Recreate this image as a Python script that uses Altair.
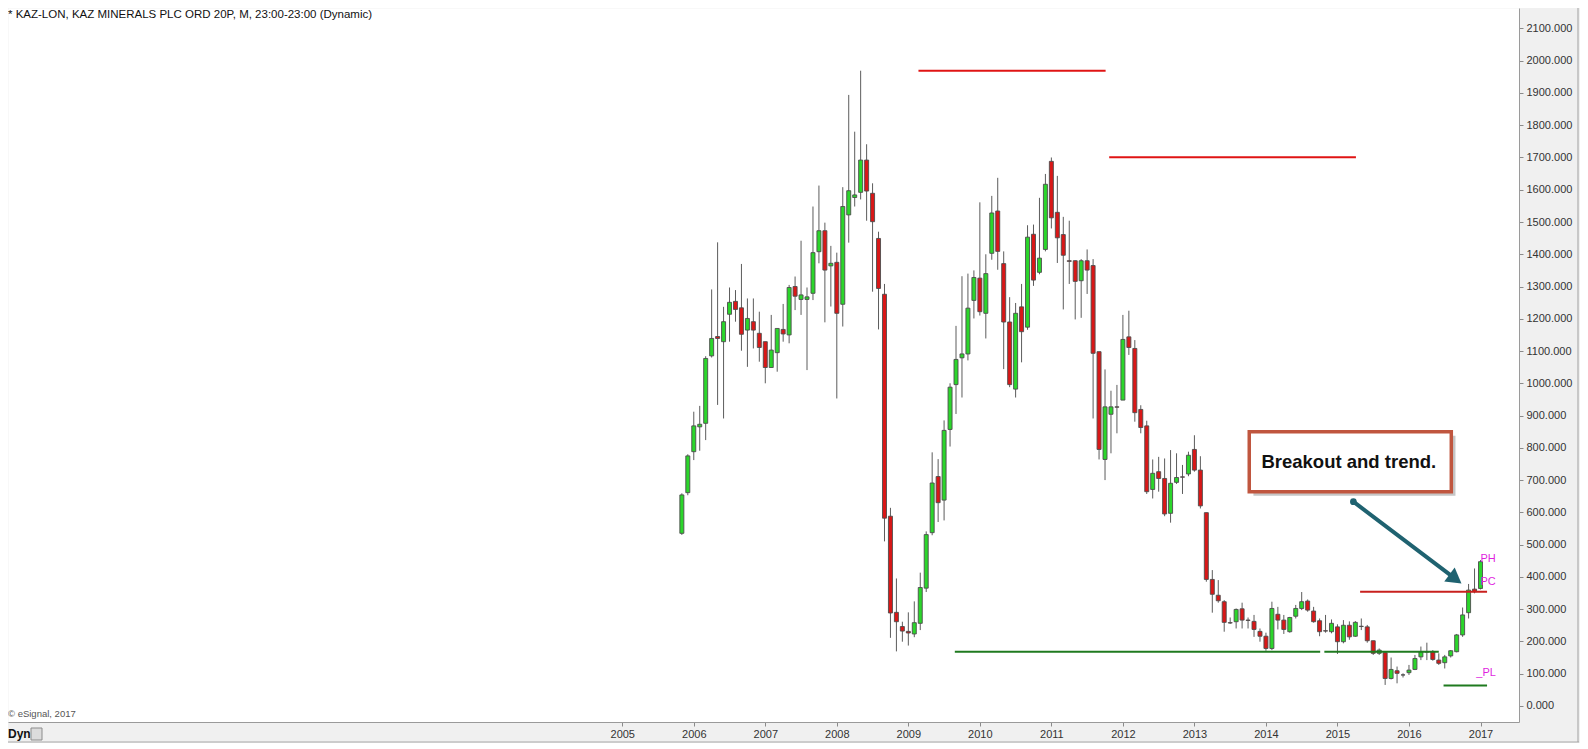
import altair as alt
import pandas as pd

# ---------------- data (monthly candles, Nov 2005 .. Jan 2017) ----------------
months = [p.strftime("%Y-%m") for p in pd.period_range("2005-11", "2017-01", freq="M")]

opens = [535, 661, 788, 865, 876, 1085, 1145, 1129, 1214, 1254,
         1234, 1165, 1191, 1155, 1129, 1049, 1095, 1167, 1150, 1300,
         1260, 1260, 1279, 1408, 1473, 1364, 1375, 1245, 1522, 1576,
         1592, 1692, 1589, 1449, 1276, 588, 290, 246, 231, 223,
         256, 365, 537, 711, 638, 857, 996, 1079, 1091, 1257,
         1326, 1217, 1403, 1534, 1371, 1190, 982, 1237, 1174, 1462,
         1344, 1415, 1688, 1530, 1461, 1380, 1380, 1318, 1380, 1365,
         1098, 764, 904, 927, 948, 1144, 1108, 919, 868, 671,
         726, 705, 597, 693, 710, 719, 795, 731, 599, 392,
         343, 323, 258, 261, 301, 266, 262, 231, 216, 178,
         284, 266, 230, 278, 302, 325, 294, 264, 233, 230,
         245, 199, 250, 216, 247, 245, 202, 163, 165, 85,
         109, 96, 103, 113, 152, 168, 168, 142, 134, 155,
         168, 220, 289, 362, 364]

highs = [659, 780, 912, 930, 1084, 1291, 1437, 1237, 1297, 1289,
         1370, 1263, 1263, 1222, 1129, 1212, 1170, 1246, 1305, 1331,
         1442, 1297, 1548, 1613, 1498, 1426, 1405, 1608, 1894, 1780,
         1969, 1741, 1620, 1470, 1308, 614, 395, 261, 290, 324,
         413, 541, 786, 765, 885, 1000, 1178, 1332, 1340, 1350,
         1561, 1400, 1581, 1637, 1409, 1267, 1249, 1308, 1490, 1492,
         1575, 1649, 1700, 1643, 1516, 1504, 1381, 1385, 1415, 1385,
         1098, 1043, 977, 995, 1212, 1225, 1134, 932, 884, 764,
         772, 767, 793, 783, 747, 788, 839, 774, 599, 421,
         390, 328, 274, 302, 320, 274, 282, 240, 227, 323,
         307, 282, 276, 313, 353, 330, 307, 271, 282, 268,
         253, 266, 262, 263, 271, 251, 202, 178, 168, 150,
         122, 101, 127, 158, 184, 196, 173, 163, 158, 173,
         223, 305, 378, 426, 452]

lows = [530, 653, 762, 791, 824, 1080, 933, 891, 1129, 1191,
        1101, 1051, 1108, 1067, 1000, 1049, 1036, 1129, 1124, 1227,
        1212, 1041, 1258, 1372, 1189, 1238, 953, 1176, 1436, 1548,
        1570, 1504, 1284, 1167, 510, 211, 169, 199, 187, 213,
        235, 353, 529, 570, 575, 804, 905, 956, 1071, 1201,
        1210, 1139, 1383, 1352, 1044, 988, 956, 1065, 1166, 1302,
        1338, 1409, 1480, 1373, 1229, 1308, 1198, 1203, 1277, 891,
        764, 700, 783, 845, 948, 1088, 881, 845, 657, 643,
        664, 588, 568, 688, 657, 712, 726, 612, 385, 289,
        320, 230, 254, 240, 240, 240, 214, 199, 171, 173,
        237, 223, 227, 271, 297, 292, 258, 216, 227, 225,
        161, 194, 205, 214, 235, 196, 158, 158, 65, 82,
        70, 88, 96, 111, 142, 142, 140, 127, 116, 150,
        166, 214, 271, 349, 361]

closes = [654, 775, 868, 873, 1077, 1139, 1139, 1191, 1251, 1229,
          1152, 1201, 1165, 1111, 1049, 1103, 1170, 1153, 1297, 1270,
          1274, 1268, 1405, 1473, 1351, 1372, 1217, 1548, 1597, 1584,
          1692, 1596, 1501, 1294, 582, 288, 261, 232, 226, 258,
          367, 531, 691, 630, 854, 988, 1074, 1091, 1233, 1328,
          1222, 1340, 1528, 1409, 1190, 996, 1217, 1160, 1453, 1320,
          1388, 1617, 1513, 1451, 1397, 1378, 1316, 1380, 1351, 1093,
          795, 927, 927, 926, 1136, 1111, 909, 863, 664, 721,
          705, 595, 690, 708, 709, 777, 731, 620, 392, 346,
          326, 259, 257, 299, 266, 265, 237, 216, 178, 302,
          266, 237, 274, 302, 323, 297, 261, 230, 232, 256,
          199, 250, 214, 259, 246, 202, 163, 173, 85, 113,
          101, 96, 111, 147, 168, 167, 144, 132, 152, 171,
          220, 282, 359, 354, 447]

year_labels = list(range(2005, 2018))
price_ticks = list(range(0, 2200, 100))

# horizontal support / resistance levels drawn on the chart
level_start = [39.7, 71.7, 113.8, 45.8, 107.8, 127.8]
level_end = [71.1, 113.1, 135.1, 107.1, 127.0, 135.1]
level_value = [1969, 1701, 354, 168, 168, 63]
level_color = ["#e01414", "#e01414", "#c8201e", "#1f7a1f", "#1f7a1f", "#1f7a1f"]

marker_text = ["PH", "PC", "_PL"]
marker_idx = [134.0, 134.0, 133.3]
marker_value = [456, 383, 101]

# ---------------- frames ----------------
df = pd.DataFrame({"idx": list(range(len(months))), "month": months,
                   "open": opens, "high": highs, "low": lows, "close": closes})
df["dir"] = ["up" if c >= o else "down" for o, c in zip(opens, closes)]

levels = pd.DataFrame({"x1": level_start, "x2": level_end, "v": level_value, "c": level_color})
markers = pd.DataFrame({"t": marker_text, "idx": marker_idx, "v": marker_value})

year_ticks = [(y - 2006) * 12 + 2 for y in year_labels]

xscale = alt.Scale(domain=[-112.22, 139.62], nice=False, zero=False)
yscale = alt.Scale(domain=[-49.9, 2163.4], nice=False, zero=False)

xaxis = alt.Axis(values=year_ticks, labelExpr="'' + (2006 + (datum.value - 2) / 12)",
                 title=None, grid=False, orient="bottom", tickSize=4, labelPadding=2,
                 tickColor="#8a8a8a", domainColor="#9a9a9a", labelColor="#333333",
                 labelFont="Liberation Sans Narrow, Liberation Sans, Arial", labelFontSize=11,
                 labelFlush=False, labelOverlap=False)
yaxis = alt.Axis(values=price_ticks, format=".3f", title=None, grid=False, orient="right",
                 tickSize=4, labelPadding=3, tickColor="#8a8a8a", domainColor="#9a9a9a",
                 labelColor="#333333", labelFont="Liberation Sans", labelFontSize=11,
                 labelFlush=False, labelOverlap=False)


def X(field):
    return alt.X(field, type="quantitative", scale=xscale, axis=xaxis)


def Y(field):
    return alt.Y(field, type="quantitative", scale=yscale, axis=yaxis)


base = alt.Chart(df)

wicks = base.mark_rule(color="#5c5c5c", strokeWidth=1).encode(
    x=X("idx"), y=Y("low"), y2="high")

bodies = base.mark_bar(size=4, stroke="#4d4d4d", strokeWidth=0.9).encode(
    x=X("idx"), y=Y("open"), y2="close",
    fill=alt.Fill("dir:N", scale=alt.Scale(domain=["up", "down"], range=["#2bd62b", "#d91717"]),
                  legend=None))

level_rules = alt.Chart(levels).mark_rule(strokeWidth=2).encode(
    x=X("x1"), x2="x2", y=Y("v"), color=alt.Color("c:N", scale=None))

marker_labels = alt.Chart(markers).mark_text(
    align="left", baseline="middle", color="#e01fe0", fontSize=11, font="Liberation Sans").encode(
    x=X("idx"), y=Y("v"), text="t")

# annotation box
box_df = pd.DataFrame({"x1": [95.2], "x2": [129.1], "v1": [664], "v2": [850],
                       "sx1": [95.9], "sx2": [129.8], "sv1": [651.6], "sv2": [837.6],
                       "tx": [111.9], "tv": [756], "t": ["Breakout and trend."]})
shadow = alt.Chart(box_df).mark_rect(fill="#808080", opacity=0.45).encode(
    x=X("sx1"), x2="sx2", y=Y("sv1"), y2="sv2")
box = alt.Chart(box_df).mark_rect(fill="white", stroke="#c0563f", strokeWidth=3.5).encode(
    x=X("x1"), x2="x2", y=Y("v1"), y2="v2")
box_text = alt.Chart(box_df).mark_text(
    fontSize=18.5, fontWeight="bold", font="Liberation Sans", color="#111111",
    align="center", baseline="middle").encode(x=X("tx"), y=Y("tv"), text="t")

# arrow
arrow_df = pd.DataFrame({"x1": [112.67], "v1": [633], "x2": [129.3], "v2": [400.5],
                         "hx": [129.8], "hv": [393.5]})
arrow_line = alt.Chart(arrow_df).mark_rule(color="#1f6270", strokeWidth=4, strokeCap="round").encode(
    x=X("x1"), y=Y("v1"), x2="x2", y2="v2")
arrow_head = alt.Chart(arrow_df).mark_point(
    shape="triangle-right", angle=36.9, filled=True, size=300, color="#1f6270", opacity=1).encode(
    x=X("hx"), y=Y("hv"))
arrow_dot = alt.Chart(arrow_df).mark_point(
    shape="circle", filled=True, size=45, color="#1f6270", opacity=1).encode(
    x=X("x1"), y=Y("v1"))

# static texts / frame pieces
one = pd.DataFrame({"a": [0]})
title_txt = alt.Chart(one).mark_text(
    text="* KAZ-LON, KAZ MINERALS PLC ORD 20P, M, 23:00-23:00 (Dynamic)",
    align="left", baseline="top", fontSize=11.5, font="Liberation Sans", color="#111111").encode(
    x=alt.value(0), y=alt.value(1))
copy_txt = alt.Chart(one).mark_text(
    text="\u00a9 eSignal, 2017", align="left", baseline="middle", fontSize=9.5,
    font="Liberation Sans", color="#555555").encode(x=alt.value(0), y=alt.value(706))
dyn_txt = alt.Chart(one).mark_text(
    text="Dyn", align="left", baseline="middle", fontSize=12, fontWeight="bold",
    font="Liberation Sans", color="#111111").encode(x=alt.value(0), y=alt.value(726))
lock_icon = alt.Chart(one).mark_rect(fill="#dcdcdc", stroke="#8c8c8c", strokeWidth=1).encode(
    x=alt.value(23), x2=alt.value(34), y=alt.value(720), y2=alt.value(732))
bottom_line = alt.Chart(one).mark_rule(color="#a8a8a8", strokeWidth=1).encode(
    x=alt.value(0), x2=alt.value(1571), y=alt.value(734))
right_line = alt.Chart(one).mark_rule(color="#a0a0a0", strokeWidth=1).encode(
    x=alt.value(1570), y=alt.value(0), y2=alt.value(734))

chart = alt.layer(
    wicks, bodies, level_rules, marker_labels,
    shadow, box, box_text, arrow_line, arrow_head, arrow_dot,
    title_txt, copy_txt, dyn_txt, lock_icon, bottom_line, right_line
).properties(
    width=1511, height=714,
    autosize=alt.AutoSizeParams(type="none"),
    padding={"left": 0, "top": 0, "right": 61, "bottom": 21},
    background="#f0f0f0",
).configure_view(
    fill="white", stroke="transparent"
)

chart.save("out.html", embed_options={"renderer": "svg", "actions": False})
